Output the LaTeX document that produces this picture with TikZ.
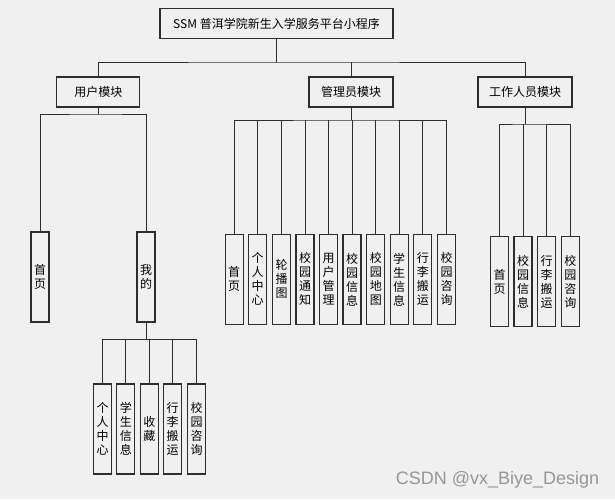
\documentclass[tikz,border=0pt]{standalone}
\usepackage{fontspec}
\setmainfont{Noto Sans CJK SC}
\newfontfamily\marksans{Liberation Sans}
\definecolor{bggray}{RGB}{240,240,240}
\definecolor{linegray}{RGB}{45,45,45}
\definecolor{markgray}{RGB}{150,150,150}
\usetikzlibrary{calc}

\begin{document}
\begin{tikzpicture}[
  x=1pt,y=-1pt,
  modbox/.style={draw=linegray,line width=1.2pt,fill=bggray,
    font=\fontsize{12}{14}\selectfont,minimum height=30pt,inner sep=0pt},
  leafbox/.style={draw=linegray,line width=1.2pt,fill=bggray,
    font=\fontsize{12}{14}\selectfont,minimum width=18pt,minimum height=90pt,
    inner sep=0pt,text width=14pt,align=center},
  link/.style={draw=linegray,line width=1pt}
]
  \fill[bggray] (0,0) rectangle (615,499);
  \useasboundingbox (0,0) rectangle (615,499);
  % top level
  \node[modbox,minimum width=233pt] (title) at (276.5,23.5) {SSM 普洱学院新生入学服务平台小程序};
  \node[modbox,minimum width=83pt] (user) at (98.3,92) {用户模块};
  \node[modbox,minimum width=84pt] (admin) at (351,92) {管理员模块};
  \node[modbox,minimum width=94pt] (staff) at (525,92) {工作人员模块};
  \coordinate (topbus) at (276.5,62);
  \draw[link] (title) -- (topbus);
  \draw[link] (user.north) |- (topbus) -| (staff.north);
  \draw[link] (admin.north) -- (admin.north |- topbus);
  % user module
  \node[leafbox] (uhome) at (40,277) {首\\页};
  \node[leafbox] (umine) at (146,277) {我\\的};
  \coordinate (ubus) at (98.3,114);
  \draw[link] (user) -- (ubus);
  \draw[link] (uhome.north) |- (ubus) -| (umine.north);
  % user module / mine
  \node[leafbox] (mcenter) at (102.5,429) {个\\人\\中\\心};
  \node[leafbox] (mstudent) at (125.8,429) {学\\生\\信\\息};
  \node[leafbox] (mfav) at (149.3,429) {收\\藏};
  \node[leafbox] (mmove) at (172.7,429) {行\\李\\搬\\运};
  \node[leafbox] (mask) at (196.5,429) {校\\园\\咨\\询};
  \coordinate (mbus) at (146,339.5);
  \draw[link] (umine) -- (mbus);
  \draw[link] (mcenter.north) |- (mbus) -| (mask.north);
  \foreach \n in {mstudent,mfav,mmove}
    \draw[link] (\n.north) -- (\n.north |- mbus);
  % admin module
  \node[leafbox] (ahome) at (234.2,279.3) {首\\页};
  \node[leafbox] (acenter) at (257.5,279.3) {个\\人\\中\\心};
  \node[leafbox] (abanner) at (281.5,279.3) {轮\\播\\图};
  \node[leafbox] (anotice) at (305,279.3) {校\\园\\通\\知};
  \node[leafbox] (auser) at (328.5,279.3) {用\\户\\管\\理};
  \node[leafbox] (ainfo) at (352,279.3) {校\\园\\信\\息};
  \node[leafbox] (amap) at (375.8,279.3) {校\\园\\地\\图};
  \node[leafbox] (astudent) at (399.2,279.3) {学\\生\\信\\息};
  \node[leafbox] (amove) at (422.8,279.3) {行\\李\\搬\\运};
  \node[leafbox] (aask) at (446.5,279.3) {校\\园\\咨\\询};
  \coordinate (abus) at (351,120);
  \draw[link] (admin) -- (abus);
  \draw[link] (ahome.north) |- (abus) -| (aask.north);
  \foreach \n in {acenter,abanner,anotice,auser,ainfo,amap,astudent,amove}
    \draw[link] (\n.north) -- (\n.north |- abus);
  % staff module
  \node[leafbox] (shome) at (499.5,281.7) {首\\页};
  \node[leafbox] (sinfo) at (523,281.7) {校\\园\\信\\息};
  \node[leafbox] (smove) at (546.7,281.7) {行\\李\\搬\\运};
  \node[leafbox] (sask) at (570.3,281.7) {校\\园\\咨\\询};
  \coordinate (sbus) at (525,124);
  \draw[link] (staff) -- (sbus);
  \draw[link] (shome.north) |- (sbus) -| (sask.north);
  \foreach \n in {sinfo,smove}
    \draw[link] (\n.north) -- (\n.north |- sbus);
  % watermark
  \node[font=\marksans\fontsize{18}{20}\selectfont,text=markgray,inner sep=0pt] (mark) at (497.5,480) {CSDN @vx\_Biye\_Design};
\end{tikzpicture}
\end{document}
